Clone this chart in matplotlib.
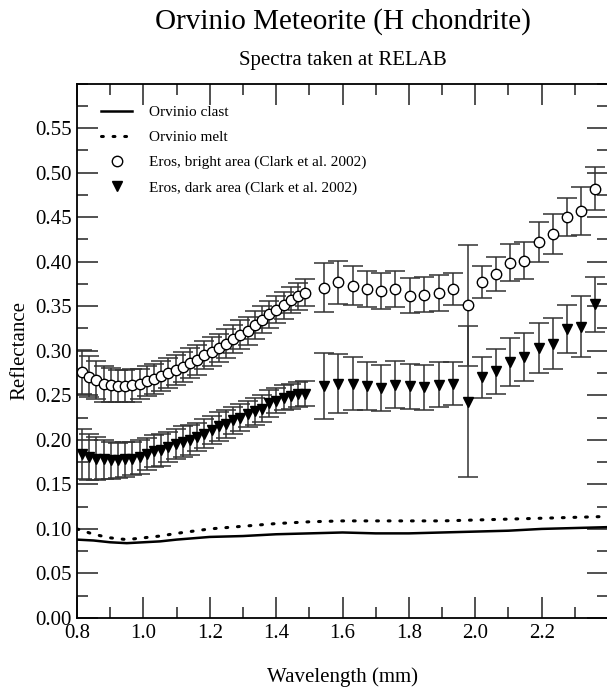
import matplotlib
matplotlib.use("Agg")
import matplotlib.pyplot as plt
from matplotlib.ticker import MultipleLocator, FixedLocator

plt.rcParams['font.family'] = ['Liberation Serif', 'DejaVu Serif']

# lab spectra (Orvinio)
lab_wl = [0.80, 0.85, 0.90, 0.95, 1.00, 1.05, 1.10, 1.20, 1.30, 1.40,
          1.50, 1.60, 1.70, 1.80, 1.90, 2.00, 2.10, 2.20, 2.30, 2.40]
clast = [0.088, 0.087, 0.085, 0.084, 0.085, 0.086, 0.088, 0.091, 0.092, 0.094,
         0.095, 0.096, 0.095, 0.095, 0.096, 0.097, 0.098, 0.100, 0.101, 0.102]
melt = [0.100, 0.094, 0.090, 0.088, 0.090, 0.092, 0.095, 0.100, 0.103, 0.106,
        0.108, 0.109, 0.109, 0.109, 0.109, 0.110, 0.111, 0.112, 0.113, 0.114]

# NEAR NIS spectra of Eros (Clark et al. 2002)
eros_wl = [0.815, 0.837, 0.858, 0.880, 0.902, 0.923, 0.945, 0.967, 0.989, 1.010,
           1.032, 1.054, 1.075, 1.097, 1.119, 1.141, 1.162, 1.184, 1.206, 1.227,
           1.249, 1.271, 1.292, 1.314, 1.336, 1.358, 1.379, 1.401, 1.423, 1.444,
           1.466, 1.488,
           1.544, 1.587, 1.631, 1.674, 1.717, 1.759, 1.804, 1.846, 1.890, 1.933,
           1.977, 2.019, 2.062, 2.105, 2.148, 2.191, 2.234, 2.277, 2.320, 2.362]
bright = [0.276, 0.271, 0.267, 0.263, 0.262, 0.260, 0.260, 0.261, 0.263, 0.266,
          0.268, 0.272, 0.275, 0.278, 0.282, 0.286, 0.290, 0.295, 0.299, 0.303,
          0.308, 0.313, 0.318, 0.322, 0.329, 0.335, 0.341, 0.346, 0.351, 0.357,
          0.361, 0.365,
          0.371, 0.377, 0.373, 0.369, 0.367, 0.369, 0.362, 0.363, 0.365, 0.369,
          0.351, 0.377, 0.386, 0.399, 0.401, 0.422, 0.431, 0.450, 0.457, 0.482]
bright_err = [0.025, 0.023, 0.021, 0.020, 0.019, 0.018, 0.018, 0.018, 0.017, 0.017,
              0.017, 0.017, 0.017, 0.017, 0.017, 0.017, 0.017, 0.016, 0.016, 0.016,
              0.016, 0.016, 0.016, 0.016, 0.016, 0.015, 0.015, 0.015, 0.015, 0.015,
              0.015, 0.015,
              0.027, 0.024, 0.022, 0.020, 0.020, 0.020, 0.020, 0.020, 0.020, 0.018,
              0.068, 0.018, 0.019, 0.021, 0.021, 0.022, 0.022, 0.021, 0.027, 0.024]
dark = [0.184, 0.181, 0.179, 0.178, 0.177, 0.177, 0.178, 0.179, 0.181, 0.184,
        0.187, 0.189, 0.192, 0.195, 0.198, 0.200, 0.203, 0.207, 0.211, 0.215,
        0.218, 0.222, 0.225, 0.229, 0.232, 0.235, 0.241, 0.244, 0.247, 0.249,
        0.251, 0.252,
        0.260, 0.263, 0.263, 0.260, 0.258, 0.262, 0.260, 0.259, 0.262, 0.263,
        0.243, 0.270, 0.277, 0.287, 0.293, 0.303, 0.308, 0.324, 0.327, 0.352]
dark_err = [0.028, 0.026, 0.024, 0.022, 0.021, 0.020, 0.020, 0.019, 0.019, 0.018,
            0.018, 0.018, 0.017, 0.017, 0.017, 0.017, 0.016, 0.016, 0.016, 0.016,
            0.016, 0.015, 0.015, 0.015, 0.015, 0.015, 0.015, 0.014, 0.014, 0.014,
            0.014, 0.014,
            0.037, 0.033, 0.030, 0.027, 0.026, 0.026, 0.025, 0.025, 0.025, 0.024,
            0.085, 0.023, 0.025, 0.027, 0.027, 0.028, 0.029, 0.027, 0.034, 0.031]

fig = plt.figure(figsize=(6.07, 6.87), dpi=100)
ax = fig.add_axes([77 / 607, 69 / 687, 531 / 607, 534.5 / 687])

ax.plot(lab_wl, clast, color='black', lw=1.8, label='Orvinio clast')
ax.plot(lab_wl, melt, color='black', lw=2.2, ls=(0, (0.6, 3.2)),
        dash_capstyle='round', label='Orvinio melt')

ax.errorbar(eros_wl, bright, yerr=bright_err, fmt='none', ecolor='#333333',
            elinewidth=1.1, capsize=7, capthick=1.1)
ax.errorbar(eros_wl, dark, yerr=dark_err, fmt='none', ecolor='#333333',
            elinewidth=1.1, capsize=7, capthick=1.1)
ax.plot(eros_wl, bright, 'o', ms=7.5, mfc='white', mec='black', mew=1.0,
        label='Eros, bright area (Clark et al. 2002)')
ax.plot(eros_wl, dark, 'v', ms=7.5, mfc='black', mec='black',
        label='Eros, dark area (Clark et al. 2002)')

ax.set_xlim(0.8, 2.4)
ax.set_ylim(0.0, 0.6)
ax.xaxis.set_major_locator(FixedLocator([0.8, 1.0, 1.2, 1.4, 1.6, 1.8, 2.0, 2.2]))
ax.xaxis.set_minor_locator(MultipleLocator(0.1))
ax.yaxis.set_major_locator(FixedLocator([0.0, 0.05, 0.10, 0.15, 0.20, 0.25,
                                         0.30, 0.35, 0.40, 0.45, 0.50, 0.55]))
ax.yaxis.set_minor_locator(MultipleLocator(0.025))
ax.xaxis.set_major_formatter(plt.FuncFormatter(lambda v, p: f'{v:.1f}'))
ax.yaxis.set_major_formatter(plt.FuncFormatter(lambda v, p: f'{v:.2f}'))
ax.tick_params(which='both', direction='in', top=True, right=True,
               labelsize=15, color='#333333', width=1.2)
ax.tick_params(which='major', length=15, pad=4)
ax.tick_params(which='minor', length=8)
for s in ax.spines.values():
    s.set_linewidth(1.3)

ax.set_xlabel('Wavelength (mm)', fontsize=15, labelpad=18)
ax.set_ylabel('Reflectance', fontsize=15, labelpad=4)

fig.text(0.5 * (77 + 608) / 607, 1 - 22 / 687, 'Orvinio Meteorite (H chondrite)',
         ha='center', va='center', fontsize=21)
fig.text(0.5 * (77 + 608) / 607, 1 - 60 / 687, 'Spectra taken at RELAB',
         ha='center', va='center', fontsize=15)

ax.legend(loc='upper left', bbox_to_anchor=(0.02, 0.985), frameon=False,
          fontsize=11, handlelength=2.0, labelspacing=0.75, handletextpad=1.1)

fig.savefig('out.png', dpi=100)
